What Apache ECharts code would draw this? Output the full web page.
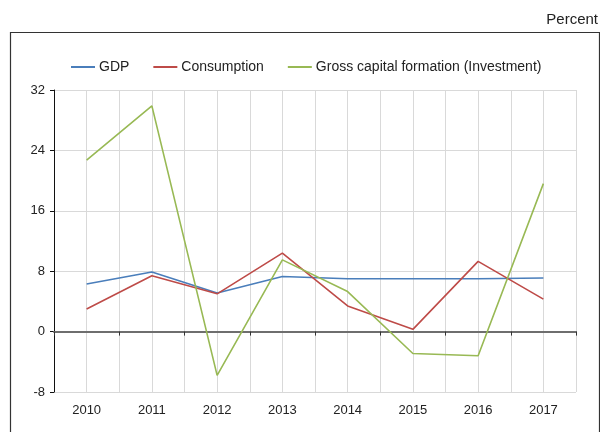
<!DOCTYPE html>
<html>
<head>
<meta charset="utf-8">
<script src="https://cdn.jsdelivr.net/npm/echarts@6/dist/echarts.min.js"></script>
<style>
  html, body { margin: 0; padding: 0; background: #fff; }
  #chart { width: 600px; height: 432px; }
</style>
</head>
<body>
<div id="chart"></div>
<script>
const years = ['2010', '2011', '2012', '2013', '2014', '2015', '2016', '2017']
const gdp = [6.3, 7.9, 5.1, 7.3, 7.0, 7.0, 7.0, 7.1]
const consumption = [3.0, 7.4, 5.0, 10.4, 3.4, 0.3, 9.3, 4.3]
const investment = [22.7, 29.9, -5.8, 9.5, 5.3, -2.9, -3.2, 19.6]
const yTicks = { min: -8, max: 32, step: 8 }

const font = 'Liberation Sans, Arial, sans-serif'
const gridColor = '#d9d9d9'

const chart = echarts.init(document.getElementById('chart'))

function lineSeries(name, data, color) {
  return {
    name,
    type: 'line',
    data,
    xAxisIndex: 0,
    symbol: 'none',
    z: 3,
    lineStyle: { color, width: 1.6 },
    itemStyle: { color },
  }
}

chart.setOption({
  animation: false,
  textStyle: { fontFamily: font },
  grid: { left: 54, right: 24, top: 90, bottom: 40 },
  graphic: [
    {
      type: 'rect',
      shape: { x: 10.5, y: 32.5, width: 589, height: 420 },
      style: { fill: 'none', stroke: '#333', lineWidth: 1.2 },
      z: -1,
    },
    {
      type: 'text',
      right: 2,
      top: 12,
      style: { text: 'Percent', font: '15px ' + font, fill: '#222' },
    },
  ],
  legend: {
    top: 55,
    left: 66,
    itemWidth: 24,
    itemHeight: 2,
    itemGap: 24,
    icon: 'rect',
    textStyle: { fontSize: 14, color: '#222', padding: [0, 0, 0, -1] },
    data: ['GDP', 'Consumption', 'Gross capital formation (Investment)'],
  },
  xAxis: [
    {
      type: 'category',
      data: years,
      position: 'bottom',
      axisLine: { show: false, onZero: false },
      axisTick: { show: false },
      splitLine: { show: false },
      axisLabel: { color: '#222', fontSize: 13, margin: 12 },
    },
    {
      type: 'category',
      data: years,
      position: 'bottom',
      axisLine: { show: true, onZero: true, lineStyle: { color: '#6e6e6e', width: 2 } },
      axisTick: { show: true, length: 4, lineStyle: { color: '#333' } },
      axisLabel: { show: false },
      splitLine: { show: false },
      z: 2,
    },
    {
      type: 'value',
      min: 0,
      max: years.length * 2,
      interval: 1,
      show: true,
      axisLine: { show: false },
      axisTick: { show: false },
      axisLabel: { show: false },
      splitLine: { show: true, lineStyle: { color: gridColor, width: 1 } },
    },
  ],
  yAxis: {
    type: 'value',
    min: yTicks.min,
    max: yTicks.max,
    interval: yTicks.step,
    axisLine: { show: true, lineStyle: { color: '#111', width: 1 } },
    axisTick: { show: true, length: 4, lineStyle: { color: '#111' } },
    axisLabel: { color: '#222', fontSize: 13, margin: 9 },
    splitLine: { lineStyle: { color: gridColor, width: 1 } },
  },
  series: [
    lineSeries('GDP', gdp, '#4a7ebb'),
    lineSeries('Consumption', consumption, '#be4b48'),
    lineSeries('Gross capital formation (Investment)', investment, '#98b954'),
  ],
})
</script>
</body>
</html>
